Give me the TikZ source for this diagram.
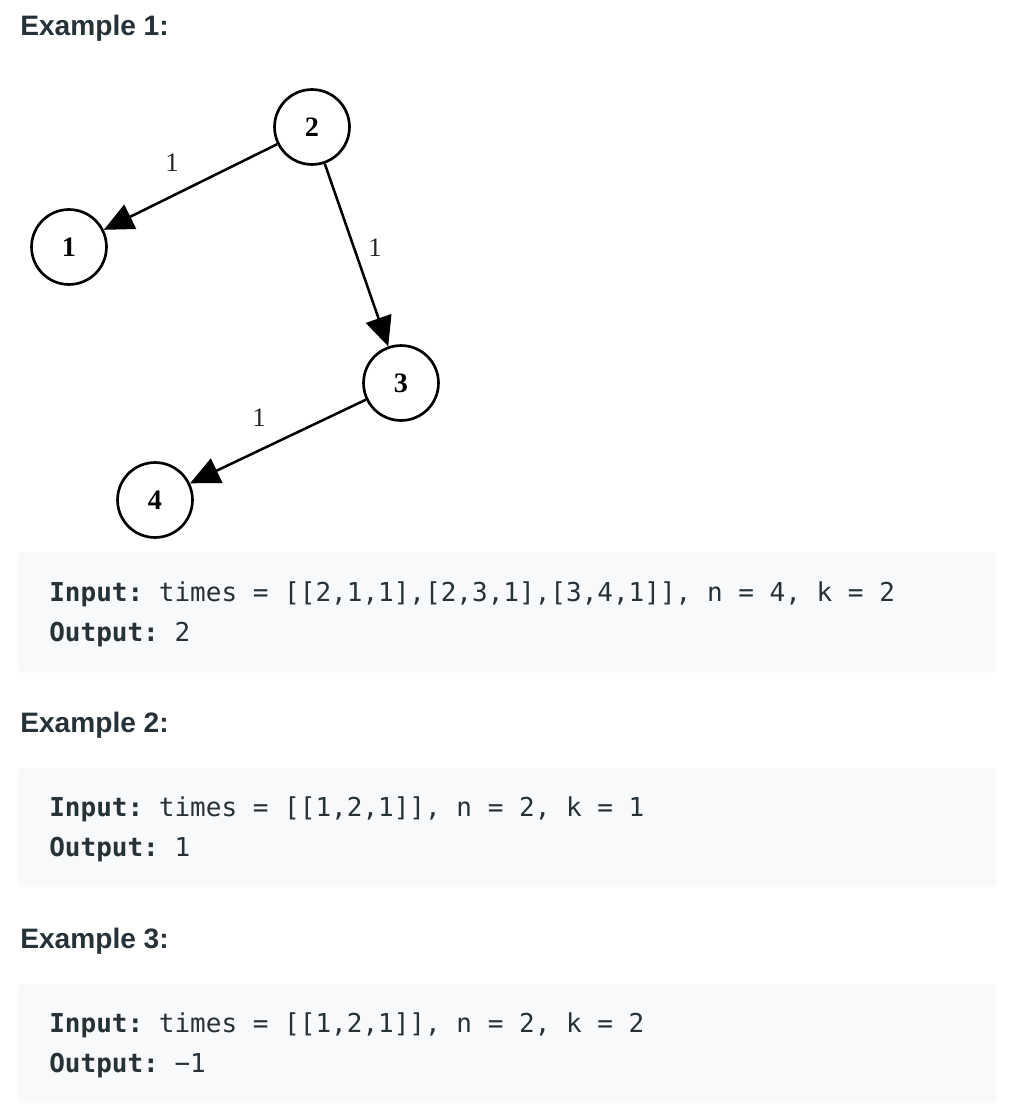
\documentclass[tikz,border=0pt]{standalone}
\usepackage{fontspec}
\setmainfont{Liberation Serif}
\setsansfont{Liberation Sans}
\setmonofont{DejaVu Sans Mono}
\usetikzlibrary{arrows.meta}
\definecolor{ink}{HTML}{263238}
\definecolor{codebg}{HTML}{F7F9FA}
\tikzset{
  nd style/.style={circle, draw, line width=1.9pt, minimum size=53.3pt, inner sep=0pt,
    font=\fontsize{20}{24}\selectfont\bfseries},
  arr style/.style={-{Triangle[length=21pt, width=19pt]}, line width=1.8pt},
  lbl style/.style={font=\fontsize{19}{22}\selectfont, text=black!85},
  head style/.style={anchor=base west, inner sep=0pt, text=ink,
    font=\sffamily\bfseries\fontsize{20}{24}\selectfont},
  code style/.style={anchor=base west, inner sep=0pt, text=ink,
    font=\ttfamily\fontsize{18.5}{22}\selectfont},
  block style/.style={fill=codebg, rounded corners=3pt}
}

\begin{document}
\begin{tikzpicture}[x=0.025cm, y=-0.025cm]
\useasboundingbox (0,0) rectangle (1008,1116);
% Example 1 with the graph
\node[head style] (h1) at (20,36) {Example 1:};
\node[nd style] (n2) at (312,127) {2};
\node[nd style] (n1) at (69,247) {1};
\node[nd style] (n3) at (401,383) {3};
\node[nd style] (n4) at (155,500) {4};
\draw[arr style] (n2)--(n1);
\draw[arr style] (n2)--(n3);
\draw[arr style] (n3)--(n4);
\node[lbl style] (w21) at (172,163) {1};
\node[lbl style] (w23) at (375,248) {1};
\node[lbl style] (w34) at (259,418) {1};
\fill[block style] (18,552) rectangle (996,672);
\node[code style] (in1) at (49,601) {\textbf{Input:} times = [[2,1,1],[2,3,1],[3,4,1]], n = 4, k = 2};
\node[code style] (out1) at (49,641) {\textbf{Output:} 2};
% Example 2
\node[head style] (h2) at (20,732) {Example 2:};
\fill[block style] (18,768) rectangle (996,887);
\node[code style] (in2) at (49,816) {\textbf{Input:} times = [[1,2,1]], n = 2, k = 1};
\node[code style] (out2) at (49,856) {\textbf{Output:} 1};
% Example 3
\node[head style] (h3) at (20,948) {Example 3:};
\fill[block style] (18,984) rectangle (996,1103);
\node[code style] (in3) at (49,1032) {\textbf{Input:} times = [[1,2,1]], n = 2, k = 2};
\node[code style] (out3) at (49,1072) {\textbf{Output:} −1};
\end{tikzpicture}
\end{document}
